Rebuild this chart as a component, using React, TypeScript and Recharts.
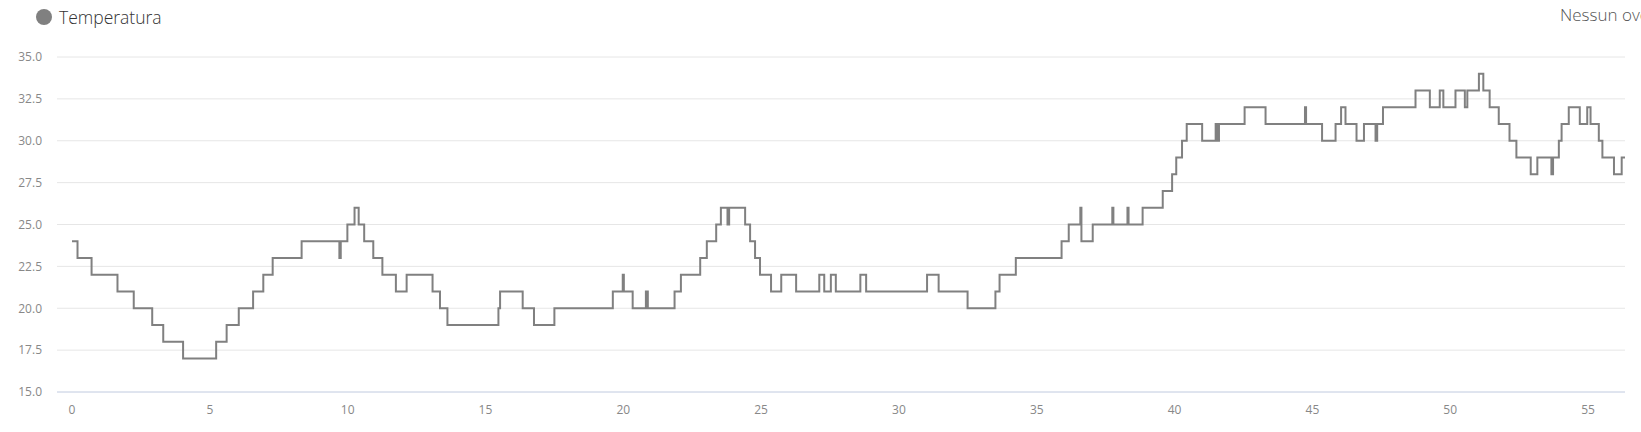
import { LineChart, Line, XAxis, YAxis, CartesianGrid } from "recharts";

// hours since start (change points of the step line)
const times = [
  0, 0.2, 0.71, 1.65, 2.24, 2.91, 3.31, 4.03, 5.23, 5.61, 6.05, 6.57, 6.94, 7.28, 8.33, 9.7, 9.75,
  9.99, 10.25, 10.4, 10.6, 10.93, 11.26, 11.75, 12.14, 13.08, 13.35, 13.62, 15.47, 15.53, 16.35,
  16.76, 17.5, 19.62, 19.98, 20.02, 20.34, 20.82, 20.89, 21.86, 22.09, 22.79, 23.03, 23.37, 23.54,
  23.78, 23.84, 24.42, 24.6, 24.78, 24.96, 25.36, 25.73, 26.27, 27.11, 27.29, 27.53, 27.71, 28.6,
  28.81, 31.02, 31.44, 32.49, 33.5, 33.65, 34.24, 35.9, 36.16, 36.58, 36.62, 37.03, 37.74, 37.78,
  38.29, 38.33, 38.84, 39.57, 39.91, 40.06, 40.27, 40.44, 41.0, 41.49, 41.55, 41.61, 42.54, 43.3,
  44.73, 44.77, 45.35, 45.84, 46.04, 46.2, 46.6, 46.87, 47.29, 47.35, 47.56, 48.74, 49.26, 49.62,
  49.75, 50.19, 50.53, 50.62, 51.04, 51.2, 51.43, 51.76, 52.15, 52.4, 52.92, 53.16, 53.67, 53.73,
  53.94, 54.04, 54.3, 54.7, 54.97, 55.09, 55.39, 55.52, 55.94, 56.22, 56.34,
];

const temps = [
  24, 23, 22, 21, 20, 19, 18, 17, 18, 19, 20, 21, 22, 23, 24, 23, 24,
  25, 26, 25, 24, 23, 22, 21, 22, 21, 20, 19, 20, 21, 20,
  19, 20, 21, 22, 21, 20, 21, 20, 21, 22, 23, 24, 25, 26,
  25, 26, 25, 24, 23, 22, 21, 22, 21, 22, 21, 22, 21, 22,
  21, 22, 21, 20, 21, 22, 23, 24, 25, 26, 24, 25, 26, 25,
  26, 25, 26, 27, 28, 29, 30, 31, 30, 31, 30, 31, 32, 31,
  32, 31, 30, 31, 32, 31, 30, 31, 30, 31, 32, 33, 32, 33,
  32, 33, 32, 33, 34, 33, 32, 31, 30, 29, 28, 29, 28, 29,
  30, 31, 32, 31, 32, 31, 30, 29, 28, 29, 29,
];

const xTicks = [0, 5, 10, 15, 20, 25, 30, 35, 40, 45, 50, 55];
const yTicks = [15, 17.5, 20, 22.5, 25, 27.5, 30, 32.5, 35];

const data = times.map((t, i) => ({ t, temp: temps[i] }));

const font = "'Open Sans', 'DejaVu Sans', sans-serif";

export default function App() {
  return (
    <div style={{ position: "relative", width: 1641, height: 432, overflow: "hidden", fontFamily: font }}>
      <style>{`body{margin:0}`}</style>
      <div style={{ position: "absolute", left: 36, top: 5, display: "flex", alignItems: "center", fontSize: 17.5, fontWeight: 300, color: "#333" }}>
        <span style={{ width: 16, height: 16, borderRadius: 8, background: "#808080", display: "inline-block", marginRight: 7 }} />
        Temperatura
      </div>
      <div style={{ position: "absolute", left: 1560, top: 3, fontSize: 17, fontWeight: 300, color: "#555", whiteSpace: "nowrap" }}>
        Nessun override
      </div>
      <LineChart width={1641} height={432} data={data} margin={{ top: 57, right: 16, left: 0, bottom: 10 }}>
        <CartesianGrid vertical={false} stroke="#e6e6e6" />
        <XAxis
          dataKey="t"
          type="number"
          domain={[0, 56.34]}
          ticks={xTicks}
          height={30}
          padding={{ left: 15, right: 0 }}
          axisLine={{ stroke: "#ccd6eb" }}
          tickLine={false}
          tickSize={0}
          tickMargin={13}
          tick={{ fill: "#888", fontSize: 12, fontFamily: font }}
        />
        <YAxis
          type="number"
          domain={[15, 35]}
          ticks={yTicks}
          width={57}
          axisLine={false}
          tickLine={false}
          tickSize={0}
          tickMargin={15}
          tickFormatter={(v: number) => v.toFixed(1)}
          tick={{ fill: "#888", fontSize: 12, fontFamily: font }}
        />
        <Line type="stepAfter" dataKey="temp" stroke="#808080" strokeWidth={2} dot={false} isAnimationActive={false} />
      </LineChart>
    </div>
  );
}
